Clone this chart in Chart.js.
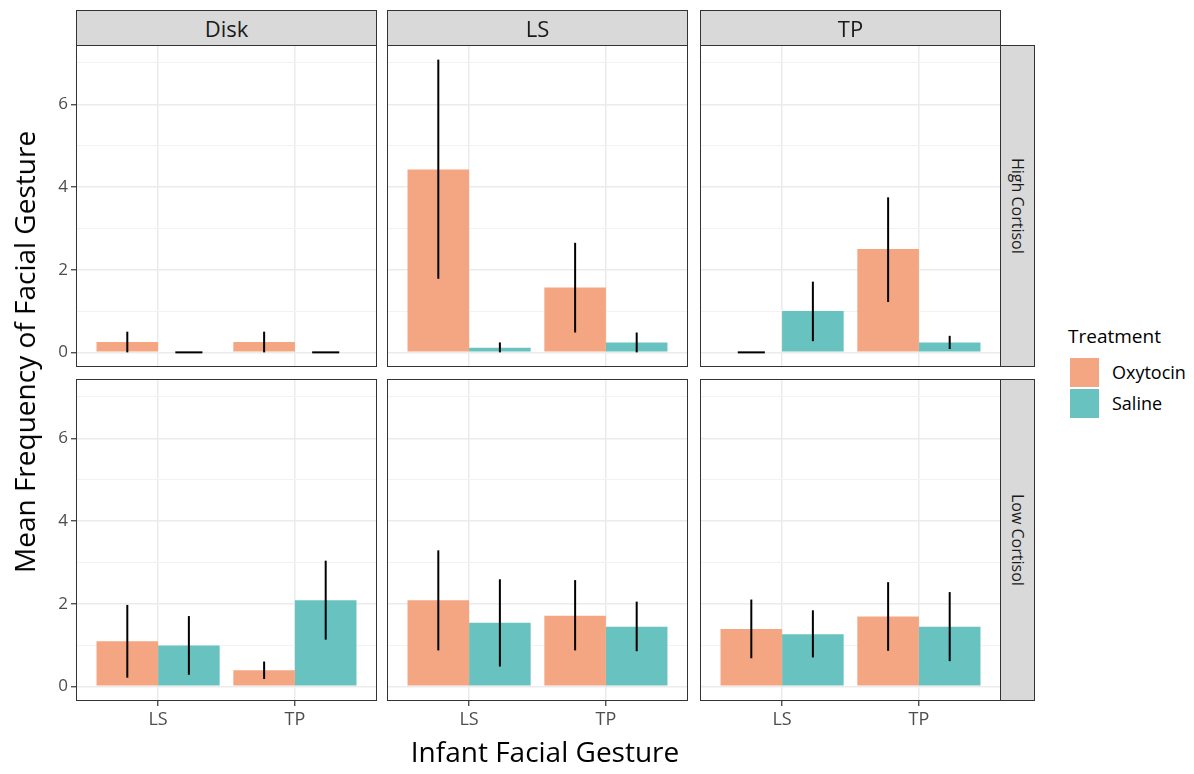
<!DOCTYPE html>
<html>
<head>
<meta charset="utf-8">
<script src="https://cdn.jsdelivr.net/npm/chart.js@4.4.0/dist/chart.umd.min.js"></script>
<style>
body { margin: 0; background: #fff; font-family: "Open Sans", sans-serif; }
#wrap { position: relative; width: 1194px; height: 774px; overflow: hidden; }
#wrap canvas, .box, .strip, .txt { position: absolute; }
.box { border: 1px solid #333; box-sizing: border-box; pointer-events: none; }
.strip { background: #d9d9d9; border: 1px solid #333; box-sizing: border-box; display: flex; align-items: center; justify-content: center; color: #1a1a1a; }
.side { writing-mode: vertical-rl; font-size: 16px; }
.txt { white-space: nowrap; color: #000; }
.key { position: absolute; width: 29px; height: 29px; }
</style>
</head>
<body>
<div id="wrap"></div>
<script>
const gestures = ["LS", "TP"];
const stimuli = ["Disk", "LS", "TP"];
const cortisol = ["High Cortisol", "Low Cortisol"];
const treatments = ["Oxytocin", "Saline"];

// one inner pair per stimulus column: [LS, TP]
const oxyHigh = [[0.25, 0.25], [4.42, 1.57], [0, 2.5]];
const oxyHighLo = [[0, 0], [1.78, 0.48], [0, 1.22]];
const oxyHighHi = [[0.5, 0.5], [7.08, 2.65], [0, 3.75]];
const salHigh = [[0, 0], [0.11, 0.24], [1.0, 0.24]];
const salHighLo = [[0, 0], [0, 0], [0.27, 0.08]];
const salHighHi = [[0, 0], [0.24, 0.48], [1.71, 0.4]];

const oxyLow = [[1.09, 0.39], [2.08, 1.71], [1.39, 1.69]];
const oxyLowLo = [[0.21, 0.18], [0.87, 0.87], [0.68, 0.86]];
const oxyLowHi = [[1.97, 0.6], [3.29, 2.57], [2.1, 2.52]];
const salLow = [[0.99, 2.08], [1.54, 1.44], [1.26, 1.44]];
const salLowLo = [[0.28, 1.13], [0.48, 0.85], [0.7, 0.61]];
const salLowHi = [[1.7, 3.04], [2.59, 2.05], [1.84, 2.28]];

const yTicks = [0, 1, 2, 3, 4, 5, 6, 7];
const colors = ["#f4a582", "#68c3c0"];

const colLeft = [76, 387, 700];
const rowTop = [45, 379];
const panelW = 301, panelH = 322;
const wrap = document.getElementById("wrap");

Chart.defaults.font.family = '"Open Sans", sans-serif';

const errorBars = {
	id: "errorBars",
	afterDatasetsDraw(chart) {
		const ctx = chart.ctx;
		const y = chart.scales.y;
		ctx.save();
		ctx.strokeStyle = "#000";
		ctx.lineWidth = 2;
		chart.data.datasets.forEach((ds, i) => {
			chart.getDatasetMeta(i).data.forEach((bar, j) => {
				const lo = y.getPixelForValue(ds.lo[j]);
				const hi = y.getPixelForValue(ds.hi[j]);
				ctx.beginPath();
				if (ds.lo[j] === ds.hi[j]) {
					// zero-width interval shows as a short flat dash
					ctx.moveTo(bar.x - bar.width * 0.22, lo);
					ctx.lineTo(bar.x + bar.width * 0.22, lo);
				} else {
					ctx.moveTo(bar.x, lo);
					ctx.lineTo(bar.x, hi);
				}
				ctx.stroke();
			});
		});
		ctx.restore();
	}
};

function el(cls, css, text) {
	const d = document.createElement("div");
	d.className = cls;
	Object.assign(d.style, css);
	if (text) d.textContent = text;
	wrap.appendChild(d);
	return d;
}

function makePanel(col, row) {
	const left = col === 0;
	const bottom = row === 1;
	const yw = left ? 40 : 0;
	const xh = bottom ? 40 : 0;
	const canvas = document.createElement("canvas");
	canvas.width = panelW + yw;
	canvas.height = panelH + xh;
	canvas.style.left = (colLeft[col] - yw) + "px";
	canvas.style.top = rowTop[row] + "px";
	wrap.appendChild(canvas);

	const means = row === 0 ? [oxyHigh, salHigh] : [oxyLow, salLow];
	const los = row === 0 ? [oxyHighLo, salHighLo] : [oxyLowLo, salLowLo];
	const his = row === 0 ? [oxyHighHi, salHighHi] : [oxyLowHi, salLowHi];

	new Chart(canvas, {
		type: "bar",
		data: {
			datasets: treatments.map((t, i) => ({
				label: t,
				data: gestures.map((g, k) => ({ x: k + 1, y: means[i][col][k] })),
				lo: los[i][col],
				hi: his[i][col],
				backgroundColor: colors[i],
				borderWidth: 0,
				categoryPercentage: 0.9,
				barPercentage: 1
			}))
		},
		options: {
			responsive: false,
			animation: false,
			devicePixelRatio: 1,
			layout: { padding: 0 },
			plugins: { legend: { display: false }, tooltip: { enabled: false } },
			scales: {
				x: {
					type: "linear",
					min: 0.4,
					max: 2.6,
					offset: false,
					afterBuildTicks: (s) => { s.ticks = gestures.map((g, k) => ({ value: k + 1 })); },
					afterFit: (s) => { s.height = xh; s.paddingLeft = 0; s.paddingRight = 0; },
					ticks: {
						display: bottom,
						color: "#4d4d4d",
						font: { size: 18 },
						padding: 3,
						maxRotation: 0,
						callback: (v) => gestures[v - 1]
					},
					grid: { offset: false, color: "#ebebeb", lineWidth: 1.5, drawTicks: bottom, tickLength: 5, tickColor: "#333", tickWidth: 1.2 },
					border: { display: false }
				},
				y: {
					min: -0.354,
					max: 7.434,
					afterBuildTicks: (s) => { s.ticks = yTicks.map((v) => ({ value: v })); },
					afterFit: (s) => { s.width = yw; s.paddingTop = 0; s.paddingBottom = 0; },
					ticks: {
						display: left,
						color: "#4d4d4d",
						font: { size: 17 },
						padding: 3,
						callback: (v) => (v % 2 === 0 ? v : "")
					},
					grid: {
						color: (c) => (c.tick && c.tick.value % 2 ? "#f2f2f2" : "#ebebeb"),
						lineWidth: (c) => (c.tick && c.tick.value % 2 ? 1 : 1.5),
						drawTicks: left,
						tickLength: 5,
						tickColor: (c) => (c.tick && c.tick.value % 2 ? "rgba(0,0,0,0)" : "#333"),
						tickWidth: 1.2
					},
					border: { display: false }
				}
			}
		},
		plugins: [errorBars]
	});

	el("box", { left: colLeft[col] + "px", top: rowTop[row] + "px", width: panelW + "px", height: panelH + "px" });
}

for (let r = 0; r < 2; r++) {
	for (let c = 0; c < 3; c++) makePanel(c, r);
}

// facet strips
stimuli.forEach((s, c) => {
	el("strip", { left: colLeft[c] + "px", top: "10px", width: panelW + "px", height: "36px", fontSize: "22px" }, s);
});
cortisol.forEach((s, r) => {
	el("strip side", { left: (colLeft[2] + panelW - 1) + "px", top: rowTop[r] + "px", width: "35px", height: panelH + "px" }, s);
});

// axis titles
el("txt", { left: "24px", top: "352px", fontSize: "28px", transform: "translate(-50%, -50%) rotate(-90deg)" }, "Mean Frequency of Facial Gesture");
el("txt", { left: "545px", top: "751px", fontSize: "28px", transform: "translate(-50%, -50%)" }, "Infant Facial Gesture");

// legend
el("txt", { left: "1068px", top: "323px", fontSize: "19px" }, "Treatment");
treatments.forEach((t, i) => {
	el("key", { left: "1070px", top: (358 + i * 31) + "px", background: colors[i] });
	el("txt", { left: "1112px", top: (359 + i * 31) + "px", fontSize: "18px", lineHeight: "27px" }, t);
});
</script>
</body>
</html>
